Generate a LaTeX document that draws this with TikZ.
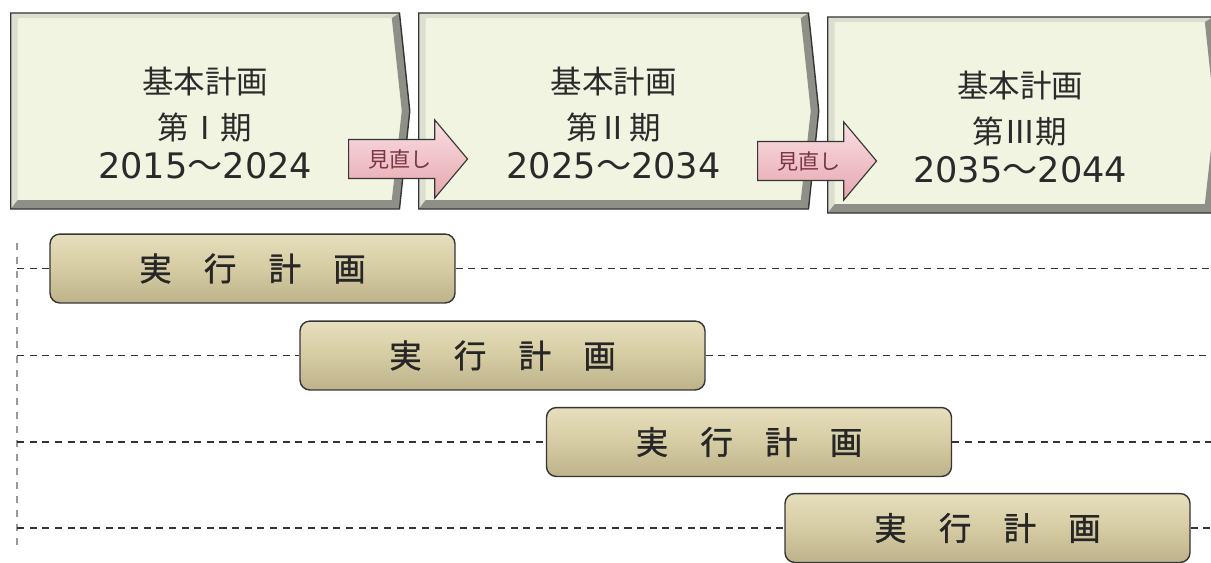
\documentclass[tikz,border=0pt]{standalone}
\usepackage{fontspec}
\setmainfont{Noto Sans CJK JP}
\newfontfamily\digits{DejaVu Sans}
\newfontfamily\planfont[FakeBold=1.2]{Noto Sans CJK JP}
\usetikzlibrary{shapes.symbols,shapes.arrows,positioning}
\newcommand{\years}[2]{{\digits #1}～{\digits #2}}
\newcommand{\ppbb}{path picture bounding box}
\definecolor{faceCol}{HTML}{F1F4E1}
\definecolor{bevelLight}{HTML}{DCDFCF}
\definecolor{bevelDark}{HTML}{8E8F87}
\definecolor{edgeCol}{HTML}{353535}
\definecolor{titleCol}{HTML}{2A2A2A}
\definecolor{planTop}{HTML}{E6DFBD}
\definecolor{planMid}{HTML}{D6CCA3}
\definecolor{planBot}{HTML}{BDB289}
\definecolor{pinkTop}{HTML}{F9DFE2}
\definecolor{pinkBot}{HTML}{E6A6AE}
\definecolor{reviewText}{HTML}{7A3545}
\definecolor{guideCol}{HTML}{333333}

\begin{document}
\begin{tikzpicture}[x=0.025cm,y=-0.025cm]
    %
    % `period' is the bevelled box of one basic plan period.
    % `review' is the small pink arrow between two periods.
    % `plan' is the rounded box of one action plan.
    \tikzstyle{period} = [signal,signal to=east,signal pointer angle=168,fill=faceCol,draw=edgeCol,line width=1pt,inner sep=0pt,minimum height=139.4pt,
        path picture={
            \fill[bevelLight] (\ppbb.north west) -- ([xshift=-7.1pt]\ppbb.north east) -- ([xshift=-12.8pt,yshift=-3.6pt]\ppbb.north east)
                -- ([xshift=5pt,yshift=-3.6pt]\ppbb.north west) -- ([xshift=5pt,yshift=6.4pt]\ppbb.south west) -- (\ppbb.south west) -- cycle;
            \fill[bevelDark] ([xshift=-7.1pt]\ppbb.north east) -- (\ppbb.east) -- ([xshift=-7.1pt]\ppbb.south east) -- (\ppbb.south west)
                -- ([xshift=5pt,yshift=6.4pt]\ppbb.south west) -- ([xshift=-12.8pt,yshift=6.4pt]\ppbb.south east)
                -- ([xshift=-5.7pt]\ppbb.east) -- ([xshift=-12.8pt,yshift=-3.6pt]\ppbb.north east) -- cycle;}]
    \tikzstyle{title} = [align=center,inner sep=0pt,text=titleCol,font=\fontsize{22.4pt}{32.7pt}\selectfont]
    \tikzstyle{review} = [single arrow,single arrow head extend=14pt,single arrow tip angle=100,draw=edgeCol,line width=0.8pt,
        top color=pinkTop,bottom color=pinkBot,text=reviewText,font=\fontsize{15pt}{15pt}\selectfont,inner xsep=2pt,inner ysep=6.5pt,minimum height=84.6pt]
    \tikzstyle{plan} = [draw=edgeCol,line width=1pt,rounded corners=7pt,minimum width=288pt,minimum height=49pt,
        top color=planTop,bottom color=planBot,middle color=planMid,text=black!85,font=\planfont\fontsize{23pt}{23pt}\selectfont]
    \tikzstyle{guide} = [guideCol,line width=1.2pt,dash pattern=on 5pt off 4pt]
    \tikzstyle{rail} = [gray!80,line width=2pt,dash pattern=on 5pt off 5pt]
    %
    \useasboundingbox (0,0) rectangle (1211,562);
    \clip (0,0) rectangle (1211,562);
    %
    % Basic plan periods
    \node[period,anchor=west,minimum width=283.8pt] (p1) at (10,111) {};
    \node[period,anchor=west,minimum width=284.5pt] (p2) at (418,111) {};
    \node[period,anchor=west,minimum width=281pt] (p3) at (827,115) {};
    \node[title,below=38.4pt of p1.north] (t1) {基本計画\\第Ⅰ期\\[-4.5pt]{\fontsize{25pt}{32.7pt}\selectfont\years{2015}{2024}}};
    \node[title,below=38.4pt of p2.north] (t2) {基本計画\\第Ⅱ期\\[-4.5pt]{\fontsize{25pt}{32.7pt}\selectfont\years{2025}{2034}}};
    \node[title,below=38.4pt of p3.north] (t3) {基本計画\\第Ⅲ期\\[-4.5pt]{\fontsize{25pt}{32.7pt}\selectfont\years{2035}{2044}}};
    %
    % Reviews
    \node[review,anchor=tail] (r1) at (348,159) {見直し};
    \node[review,anchor=tail] (r2) at (757,161) {見直し};
    %
    % Action plans
    \coordinate (rail) at (17,243);
    \coordinate (railend) at (17,545);
    \coordinate (rightend) at (1211,300);
    \draw[rail] (rail) -- (railend);
    \node[plan] (a) at (252.5,268.5) {実　行　計　画};
    \node[plan] (b) at (502.5,355.5) {実　行　計　画};
    \node[plan] (c) at (749,442) {実　行　計　画};
    \node[plan] (d) at (987.5,528) {実　行　計　画};
    \foreach \p in {a,b,c,d} {
        \draw[guide] (\p.west -| rail) -- (\p.west);
        \draw[guide] (\p.east) -- (\p.east -| rightend);
    }
    %
\end{tikzpicture}
\end{document}
